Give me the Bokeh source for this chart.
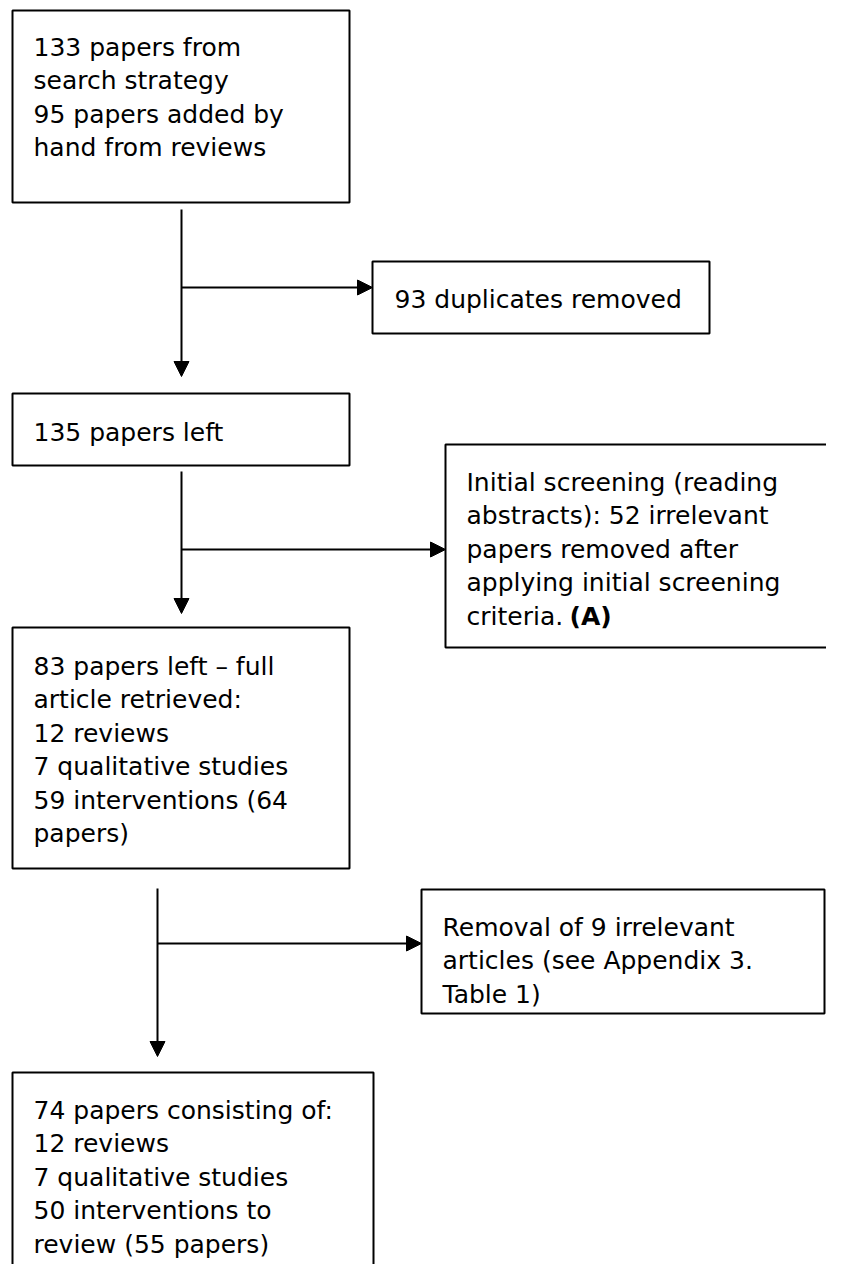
from bokeh.plotting import figure
from bokeh.models import Range1d, Arrow, NormalHead, ColumnDataSource
from bokeh.core.properties import value
from bokeh.embed import file_html
from bokeh.resources import INLINE

# ---- text content of the flowchart ----
box1_lines = ["133 papers from", "search strategy", "95 papers added by", "hand from reviews"]
box2_lines = ["93 duplicates removed"]
box3_lines = ["135 papers left"]
box4_lines = ["Initial screening (reading", "abstracts): 52 irrelevant",
              "papers removed after", "applying initial screening", "criteria."]
box4_bold = ["(A)"]
box5_lines = ["83 papers left \u2013 full", "article retrieved:", "12 reviews",
              "7 qualitative studies", "59 interventions (64", "papers)"]
box6_lines = ["Removal of 9 irrelevant", "articles (see Appendix 3.", "Table 1)"]
box7_lines = ["74 papers consisting of:", "12 reviews", "7 qualitative studies",
              "50 interventions to", "review (55 papers)"]

# ---- layout (picture pixel coordinates) ----
W, H = 826, 1264
FONT = "DejaVu Sans"
FSIZE = "25px"
STEP = 33.4

boxes = [
    # left, top, right, bottom, text x, first baseline, lines
    (12, 10, 349, 202, 33, 47, box1_lines),
    (372, 261, 709, 333, 394, 299, box2_lines),
    (12, 393, 349, 465, 33, 432, box3_lines),
    (445, 444, 870, 647, 466, 482, box4_lines),
    (12, 627, 349, 868, 33, 666, box5_lines),
    (421, 889, 824, 1013, 442, 927, box6_lines),
    (12, 1072, 373, 1310, 33, 1110, box7_lines),
]

arrows = [
    (181, 209, 181, 376),
    (181, 287, 372, 287),
    (181, 471, 181, 613),
    (181, 549, 445, 549),
    (157, 888, 157, 1056),
    (157, 943, 421, 943),
]

p = figure(width=W, height=H, output_backend="svg", toolbar_location=None,
           x_range=Range1d(0, W), y_range=Range1d(H, 0),
           min_border=0, background_fill_color="white", border_fill_color="white")
p.axis.visible = False
p.xgrid.visible = False
p.ygrid.visible = False
p.outline_line_color = None

quad_src = ColumnDataSource(dict(
    left=[b[0] for b in boxes], top=[b[1] for b in boxes],
    right=[b[2] for b in boxes], bottom=[b[3] for b in boxes]))
p.quad(left="left", right="right", top="top", bottom="bottom", source=quad_src,
       fill_color="white", line_color="black", line_width=2)

tx, ty, tt = [], [], []
for (_, _, _, _, x0, y0, lines) in boxes:
    for i, ln in enumerate(lines):
        tx.append(x0)
        ty.append(y0 + i * STEP)
        tt.append(ln)
p.text(x=tx, y=ty, text=tt, text_font=value(FONT), text_font_size=FSIZE,
       text_color="black", text_baseline="alphabetic", text_align="left")

# bold "(A)" after "criteria."
b4 = boxes[3]
p.text(x=[b4[4] + 103], y=[b4[5] + 4 * STEP], text=box4_bold, text_font=value(FONT),
       text_font_size=FSIZE, text_font_style="bold", text_color="black",
       text_baseline="alphabetic", text_align="left")

for (xs, ys, xe, ye) in arrows:
    p.add_layout(Arrow(end=NormalHead(size=15, fill_color="black", line_color="black", line_width=1),
                       x_start=xs, y_start=ys, x_end=xe, y_end=ye,
                       line_color="black", line_width=2))

open("out.html", "w").write(file_html(p, INLINE))
